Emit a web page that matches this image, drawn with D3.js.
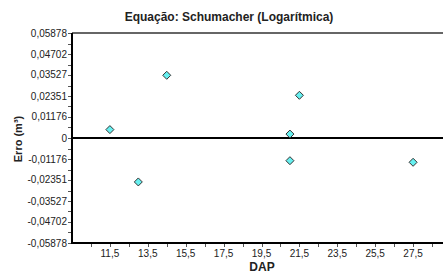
<!DOCTYPE html>
<html>
<head>
<meta charset="utf-8">
<script src="https://cdn.jsdelivr.net/npm/d3@7"></script>
<style>
  body { margin: 0; background: #fff; }
  svg { display: block; font-family: 'Liberation Sans', Arial, sans-serif; }
</style>
</head>
<body>
<svg id="chart" width="443" height="277"></svg>
<script>
// data
const dap = [11.5, 13.0, 14.5, 21.5, 21.0, 21.0, 27.5];
const erro = [0.0047, -0.0246, 0.0351, 0.0239, 0.0022, -0.0127, -0.0136];
const yTicks = [-0.05878, -0.04702, -0.03527, -0.02351, -0.01176, 0, 0.01176, 0.02351, 0.03527, 0.04702, 0.05878];
const xTicks = [11.5, 13.5, 15.5, 17.5, 19.5, 21.5, 23.5, 25.5, 27.5];

(function () {
  const svg = d3.select('#chart');
  const fmt = v => (v === 0 ? '0' : v.toFixed(5).replace('.', ','));

  const plotLeft = 72, plotTop = 33, plotBottom = 243;
  const x = d3.scaleLinear().domain([9.5, 29.5]).range([plotLeft, 451]);
  const y = d3.scaleLinear().domain([-0.05878, 0.05878]).range([plotBottom, plotTop]);

  // title
  svg.append('text')
    .attr('x', 229).attr('y', 21)
    .attr('text-anchor', 'middle')
    .style('font-size', '12px').style('font-weight', 'bold')
    .attr('fill', '#222')
    .text('Equação: Schumacher (Logarítmica)');

  // top border
  svg.append('line')
    .attr('x1', plotLeft).attr('x2', 443)
    .attr('y1', plotTop).attr('y2', plotTop)
    .attr('stroke', '#333').attr('stroke-width', 1.5);

  // y axis (major + minor ticks)
  const yMinor = d3.range(yTicks.length - 1).map(i => (yTicks[i] + yTicks[i + 1]) / 2);
  const yAxis = svg.append('g').attr('transform', `translate(${plotLeft},0)`);
  yAxis.selectAll('.tick')
    .data(yTicks.concat(yMinor))
    .enter().append('line')
    .attr('x1', -4).attr('x2', 0)
    .attr('y1', d => Math.round(y(d)) + 0.5).attr('y2', d => Math.round(y(d)) + 0.5)
    .attr('stroke', '#555');
  yAxis.selectAll('text')
    .data(yTicks)
    .enter().append('text')
    .attr('x', -5).attr('y', d => y(d)).attr('dy', '0.35em')
    .attr('text-anchor', 'end')
    .style('font-size', '10px').attr('fill', '#222')
    .text(fmt);
  yAxis.append('line')
    .attr('x1', 0).attr('x2', 0).attr('y1', plotTop).attr('y2', plotBottom)
    .attr('stroke', '#000').attr('stroke-width', 2);

  // x axis
  const xAll = d3.range(10.5, 29.5, 1).concat(xTicks);
  const xAxis = svg.append('g').attr('transform', `translate(0,${plotBottom})`);
  xAxis.selectAll('.tick')
    .data(xAll)
    .enter().append('line')
    .attr('x1', d => Math.round(x(d)) + 0.5).attr('x2', d => Math.round(x(d)) + 0.5)
    .attr('y1', 0).attr('y2', 4)
    .attr('stroke', '#555');
  xAxis.selectAll('text')
    .data(xTicks)
    .enter().append('text')
    .attr('x', d => x(d)).attr('y', 14)
    .attr('text-anchor', 'middle')
    .style('font-size', '10px').attr('fill', '#222')
    .text(d => String(d).replace('.', ','));
  xAxis.append('line')
    .attr('x1', plotLeft - 1).attr('x2', 443).attr('y1', 0).attr('y2', 0)
    .attr('stroke', '#000').attr('stroke-width', 2);

  // zero line
  svg.append('line')
    .attr('x1', plotLeft).attr('x2', 443)
    .attr('y1', y(0)).attr('y2', y(0))
    .attr('stroke', '#000').attr('stroke-width', 2);

  // axis titles
  svg.append('text')
    .attr('x', 262).attr('y', 271)
    .attr('text-anchor', 'middle')
    .style('font-size', '12px').style('font-weight', 'bold')
    .attr('fill', '#222')
    .text('DAP');
  svg.append('text')
    .attr('transform', 'translate(22,139) rotate(-90)')
    .attr('text-anchor', 'middle')
    .style('font-size', '11px').style('font-weight', 'bold')
    .attr('fill', '#222')
    .text('Erro (m³)');

  // points (diamonds)
  const pts = dap.map((d, i) => ({ dap: d, erro: erro[i] }));
  svg.append('g').selectAll('path')
    .data(pts)
    .enter().append('path')
    .attr('transform', d => `translate(${x(d.dap)},${y(d.erro)})`)
    .attr('d', 'M0,-4L4,0L0,4L-4,0Z')
    .attr('fill', '#66f0f0')
    .attr('stroke', '#333').attr('stroke-width', 1);
})();
</script>
</body>
</html>
